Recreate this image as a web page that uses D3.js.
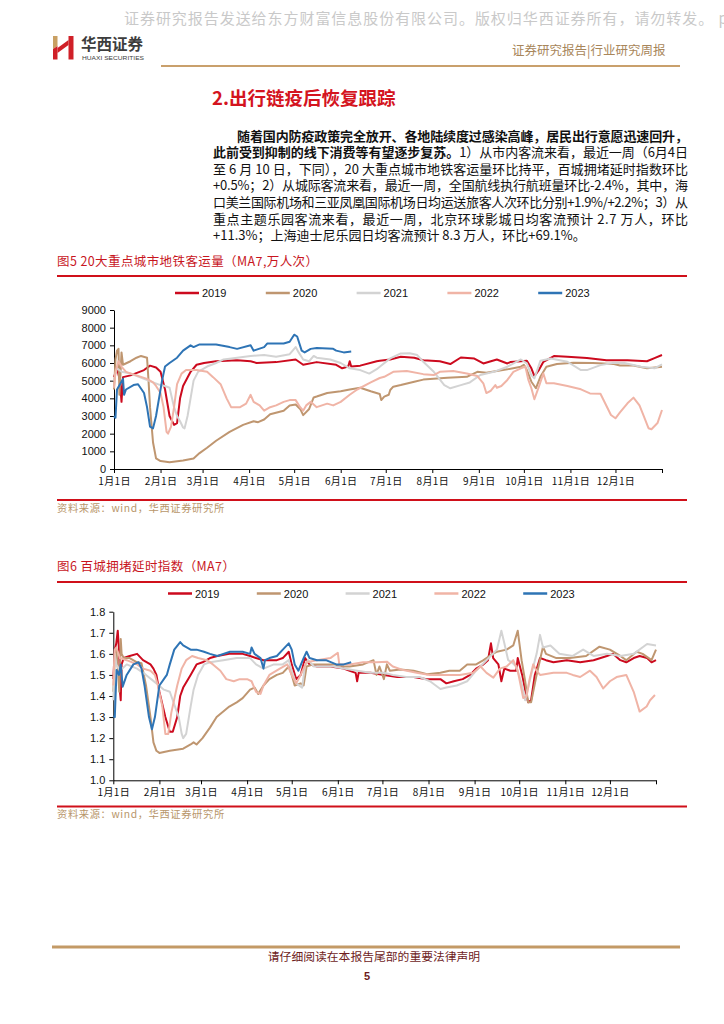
<!DOCTYPE html>
<html><head><meta charset="utf-8">
<script src="https://cdn.jsdelivr.net/npm/d3@7"></script>
<style>
html,body{margin:0;padding:0;background:#fff;}
svg{display:block;}
</style></head>
<body>
<svg id="page" width="724" height="1024"></svg>
<script>
// ---------- DATA ----------
const monthTicks = [0,31,59,90,120,151,181,212,243,273,304,334,365];
const monthLabels = ["1月1日","2月1日","3月1日","4月1日","5月1日","6月1日","7月1日","8月1日","9月1日","10月1日","11月1日","12月1日"];
const years = ["2019","2020","2021","2022","2023"];
const metroTicks = [0,1000,2000,3000,4000,5000,6000,7000,8000,9000];
const congTicks = [1.0,1.1,1.2,1.3,1.4,1.5,1.6,1.7,1.8];

// Fig 5: metro ridership (MA7, 10k trips), [day-of-year, value]
const metro2019 = [[0,5200],[2,5700],[4,5000],[5,3800],[6,5200],[11,5300],[20,5600],[24,5850],[28,5750],[31,5500],[34,4500],[37,3000],[40,2500],[42,2600],[44,4000],[46,4700],[51,5500],[55,5900],[60,6000],[68,6100],[82,6150],[91,6100],[95,6000],[108,6050],[121,6200],[126,5900],[135,6050],[148,5900],[152,5700],[156,5800],[157,6100],[158,5800],[164,5850],[175,6100],[177,6125],[184,6200],[191,6350],[200,6300],[206,6160],[217,6100],[224,5940],[231,6310],[240,6250],[246,5975],[255,6200],[262,5975],[264,6050],[271,6100],[275,6125],[278,5700],[280,5260],[283,5600],[286,6070],[293,6390],[302,6350],[315,6280],[328,6160],[342,6160],[355,6100],[360,6280],[365,6450]];
const metro2020 = [[0,4500],[1,6200],[2,6700],[3,6800],[3.6,4200],[4.4,5500],[5,6600],[6,5900],[11,6100],[15,6300],[18,6400],[22,6300],[23,5000],[24,3500],[26,1500],[28,600],[31,450],[37,380],[46,480],[53,600],[57,900],[62,1200],[68,1600],[77,2100],[86,2500],[93,2700],[96,2650],[100,2800],[104,3100],[113,3300],[117,3600],[121,3650],[124,3400],[126,3050],[130,3400],[133,4050],[135,4100],[142,4300],[151,4400],[157,4500],[164,4600],[171,4400],[177,4250],[178,3900],[180,4100],[183,4200],[184,4470],[186,4660],[191,4750],[200,4940],[206,5060],[222,5170],[235,5220],[242,5500],[248,5450],[262,5640],[271,5790],[273,5900],[275,5600],[278,4940],[281,4570],[284,5220],[288,5790],[295,5940],[306,6010],[319,6000],[333,5940],[337,5860],[346,5860],[355,5700],[362,5760],[365,5790]];
const metro2021 = [[0,5000],[1,5400],[2,5700],[5,5500],[11,5400],[20,5100],[26,4900],[31,4750],[34,4700],[37,4600],[40,3500],[42,3000],[44,2700],[46,2350],[47,2300],[49,3000],[51,4000],[53,5000],[56,5500],[62,5800],[68,6000],[73,6200],[82,6300],[91,6400],[100,6450],[108,6350],[117,6500],[121,6900],[123,6600],[126,6200],[130,6100],[133,6400],[135,6300],[144,6200],[151,6000],[157,5700],[164,5600],[170,5400],[175,5650],[177,5790],[184,6260],[191,6540],[197,6550],[202,6450],[206,6070],[213,5500],[220,4750],[224,4570],[231,4750],[237,4900],[244,5320],[253,5500],[262,5790],[271,6200],[275,5975],[278,5300],[280,5130],[284,6125],[291,6260],[302,6070],[311,5600],[315,5600],[324,5880],[333,6010],[340,6000],[351,5790],[360,5700],[365,5920]];
const metro2022 = [[0,4600],[1,5500],[3,6100],[5,5800],[8,5500],[15,5300],[22,5100],[26,4900],[28,4700],[31,4300],[33,3500],[35,2100],[36,2000],[38,2400],[40,3500],[42,4800],[45,5400],[48,5600],[55,5600],[62,5500],[66,5200],[71,4800],[75,4000],[78,3500],[84,3500],[88,3700],[91,4200],[93,3800],[97,3600],[100,3300],[104,3500],[108,3600],[113,3800],[117,3900],[121,3900],[124,3500],[126,3300],[128,3600],[131,3800],[135,3500],[142,3700],[146,3600],[151,3800],[157,4200],[162,4500],[171,4900],[177,5150],[180,5220],[186,5500],[195,5550],[206,5370],[213,5320],[217,5500],[226,5550],[235,5410],[242,5260],[246,4850],[248,4300],[251,4430],[254,4750],[255,4600],[258,4700],[262,5040],[266,5500],[271,5700],[274,5800],[276,5040],[278,4570],[280,3950],[283,4660],[286,5410],[288,4850],[293,4850],[302,4700],[311,4510],[317,4280],[324,4260],[331,3060],[334,2870],[337,3200],[342,3720],[346,4040],[350,3600],[353,2970],[356,2310],[358,2250],[362,2600],[365,3340]];
const metro2023 = [[0,3000],[1,2900],[2,4500],[4,4800],[6,5100],[6.7,4200],[8,4500],[13,4750],[16,4800],[20,4300],[22,3500],[24,2400],[26,2300],[28,3000],[32,5000],[34,5800],[37,6000],[42,6300],[46,6700],[51,7000],[53,6900],[57,7050],[68,7050],[77,6900],[82,6800],[91,7000],[93,6700],[100,6900],[102,7100],[113,7100],[117,7200],[120,7600],[122,7500],[125,6700],[127,6600],[131,6800],[135,6850],[146,6800],[148,6700],[153,6600],[158,6650]];

// Fig 6: congestion delay index (MA7)
const cong2019 = [[0,1.48],[1,1.62],[2,1.65],[3,1.71],[4,1.6],[4.5,1.42],[5,1.38],[5.6,1.55],[7,1.58],[11,1.59],[16,1.6],[20,1.57],[25,1.55],[27,1.53],[29,1.5],[31,1.42],[35,1.3],[38,1.23],[40,1.23],[43,1.3],[45,1.4],[47,1.44],[52,1.5],[56,1.55],[60,1.56],[65,1.58],[70,1.59],[78,1.6],[87,1.6],[92,1.59],[96,1.58],[101,1.57],[110,1.57],[114,1.58],[118,1.61],[120,1.55],[123,1.48],[126,1.5],[129,1.58],[132,1.55],[137,1.54],[146,1.54],[155,1.53],[159,1.52],[163,1.51],[164,1.47],[165,1.51],[173,1.51],[182,1.5],[191,1.49],[202,1.49],[211,1.48],[220,1.48],[224,1.46],[229,1.47],[235,1.48],[240,1.5],[244,1.53],[249,1.55],[252,1.57],[254,1.65],[255.5,1.58],[259,1.55],[261,1.47],[263,1.53],[267,1.52],[271,1.52],[272,1.58],[275,1.5],[277,1.43],[279,1.37],[281,1.38],[283.5,1.5],[287,1.58],[291,1.57],[296,1.56],[305,1.57],[314,1.56],[323,1.57],[332,1.59],[336,1.6],[341,1.57],[345,1.56],[350,1.58],[354,1.59],[359,1.58],[362,1.56],[365,1.57]];
const cong2020 = [[0,1.42],[1,1.58],[2,1.62],[3.4,1.5],[4,1.42],[5,1.67],[5.6,1.6],[7,1.58],[11,1.58],[16,1.56],[19,1.555],[22,1.45],[25,1.3],[27,1.18],[29,1.14],[31,1.13],[38,1.14],[47,1.15],[52,1.17],[54,1.18],[56,1.17],[60,1.2],[65,1.25],[69.5,1.3],[78,1.35],[83,1.37],[87,1.39],[92,1.43],[95,1.44],[97.5,1.41],[101,1.45],[105,1.48],[110,1.5],[114,1.51],[118,1.54],[120,1.5],[122,1.45],[126,1.46],[128,1.45],[130,1.54],[134.5,1.55],[141,1.55],[148,1.55],[155,1.54],[159,1.54],[168,1.55],[175,1.57],[177,1.5],[179,1.54],[182,1.48],[184,1.55],[186,1.52],[193,1.526],[202,1.52],[211,1.503],[220,1.51],[226,1.52],[233,1.52],[238,1.55],[244,1.55],[249,1.57],[253,1.59],[258,1.61],[264.5,1.62],[269,1.64],[272,1.71],[274.6,1.57],[277,1.47],[279,1.37],[281,1.37],[284.7,1.5],[289,1.634],[291,1.6],[298,1.58],[307,1.58],[318,1.59],[327,1.634],[334,1.62],[341,1.59],[345,1.57],[352,1.61],[356,1.6],[362,1.57],[365,1.62]];
const cong2021 = [[0,1.38],[1,1.6],[2,1.55],[4.5,1.52],[9,1.55],[16,1.53],[22,1.5],[29,1.46],[34,1.43],[38,1.42],[40,1.38],[44,1.3],[46,1.22],[47,1.2],[49,1.22],[52,1.35],[54,1.43],[57,1.5],[61,1.55],[65,1.56],[74,1.57],[83,1.58],[92,1.58],[96,1.55],[101,1.53],[108,1.55],[114,1.55],[118,1.57],[120,1.52],[123,1.46],[127,1.44],[129,1.55],[131,1.57],[135,1.54],[141,1.54],[148,1.54],[155,1.53],[164,1.52],[173,1.51],[182,1.51],[188,1.5],[197,1.49],[206,1.49],[213,1.47],[220,1.433],[224,1.44],[231,1.45],[238,1.47],[244,1.52],[251,1.57],[258,1.62],[261,1.71],[263,1.65],[265.6,1.57],[268,1.56],[271,1.54],[274.6,1.46],[277,1.38],[281,1.5],[284.7,1.6],[287,1.69],[289,1.63],[294,1.64],[300,1.6],[309,1.59],[316,1.62],[323,1.59],[332,1.6],[341,1.59],[350,1.6],[359,1.647],[365,1.64]];
const cong2022 = [[0,1.45],[1,1.62],[2,1.63],[4.5,1.58],[9,1.57],[16,1.55],[20,1.53],[25,1.52],[28,1.5],[30,1.45],[33,1.35],[35,1.22],[37,1.22],[39,1.32],[43,1.45],[46,1.53],[49,1.57],[53,1.59],[57,1.58],[63,1.57],[67,1.55],[72,1.52],[76,1.48],[81,1.47],[85,1.48],[90,1.48],[93,1.47],[96,1.42],[99,1.41],[101,1.45],[105,1.5],[112,1.53],[117,1.55],[120,1.5],[123,1.46],[126,1.5],[130,1.56],[137,1.57],[146,1.58],[151,1.605],[152,1.55],[159,1.55],[168,1.56],[177,1.56],[184,1.563],[188,1.54],[195,1.523],[204,1.51],[213,1.5],[224,1.5],[233,1.5],[242,1.51],[247,1.54],[251,1.51],[255.6,1.487],[260,1.53],[264.5,1.54],[269,1.57],[272,1.52],[275.7,1.39],[278,1.4],[280,1.48],[282.4,1.55],[284.7,1.52],[287,1.5],[296,1.51],[305,1.51],[309,1.5],[314,1.49],[320.6,1.52],[325,1.49],[329.5,1.436],[334,1.47],[338.5,1.49],[345,1.5],[350,1.42],[354,1.326],[358.7,1.35],[361,1.38],[364.3,1.405]];
const cong2023 = [[0,1.305],[1,1.3],[2.2,1.523],[3.8,1.5],[5,1.55],[6.3,1.444],[9,1.5],[13.5,1.55],[17,1.56],[19,1.53],[21,1.45],[24,1.3],[26,1.242],[28,1.3],[31,1.45],[34,1.48],[36,1.5],[38,1.55],[41,1.62],[45,1.656],[47,1.64],[52,1.62],[56,1.62],[61,1.61],[65,1.6],[70,1.59],[78.5,1.61],[87,1.61],[92,1.6],[93,1.63],[95,1.6],[99,1.58],[101,1.53],[102,1.57],[105,1.58],[110,1.59],[114,1.62],[118,1.65],[120,1.62],[122,1.55],[124.5,1.52],[128,1.58],[130,1.61],[132,1.58],[137,1.57],[143,1.57],[150,1.55],[155,1.55],[160,1.56]];

const metroSeries = [metro2019, metro2020, metro2021, metro2022, metro2023];
const congSeries = [cong2019, cong2020, cong2021, cong2022, cong2023];

const bodyLines = [
  {bold:"随着国内防疫政策完全放开、各地陆续度过感染高峰，居民出行意愿迅速回升，", normal:""},
  {bold:"此前受到抑制的线下消费等有望逐步复苏。", normal:"1）从市内客流来看，最近一周（6月4日"},
  {bold:"", normal:"至 6 月 10 日，下同），20 大重点城市地铁客运量环比持平，百城拥堵延时指数环比"},
  {bold:"", normal:"+0.5%；2）从城际客流来看，最近一周，全国航线执行航班量环比-2.4%，其中，海"},
  {bold:"", normal:"口美兰国际机场和三亚凤凰国际机场日均运送旅客人次环比分别+1.9%/+2.2%；3）从"},
  {bold:"", normal:"重点主题乐园客流来看，最近一周，北京环球影城日均客流预计 2.7 万人，环比"},
  {bold:"", normal:"+11.3%；上海迪士尼乐园日均客流预计 8.3 万人，环比+69.1%。"}
];

// ---------- STYLE ----------
const seriesColors = ["#cc0a1e","#bf9670","#d3d3d3","#f0b4a6","#2e74b5"];
const CJK = "'Noto Sans CJK SC','Noto Sans',sans-serif";
const NUM = "'Liberation Sans',Arial,sans-serif";

const svg = d3.select("#page");
svg.append("rect").attr("width",724).attr("height",1024).attr("fill","#fff");

// ---------- HEADER ----------
svg.append("text").attr("x",124).attr("y",24)
  .attr("font-family",CJK).attr("font-size",15).attr("letter-spacing",0.95)
  .attr("fill","#c9c9c9")
  .text("证券研究报告发送给东方财富信息股份有限公司。版权归华西证券所有，请勿转发。 p");

const logo = svg.append("g");
logo.append("polygon").attr("points","53,36 57.5,36 57.5,46 53,49").attr("fill","#c9a063");
logo.append("polygon").attr("points","53,49 57.5,46 57.5,59.5 53,59.5").attr("fill","#d02028");
logo.append("polygon").attr("points","57.5,48 68.5,40 68.5,45 57.5,53").attr("fill","#d02028");
logo.append("polygon").attr("points","68.5,36 73.5,36 73.5,59.5 68.5,59.5").attr("fill","#d02028");
svg.append("text").attr("x",81).attr("y",50).attr("font-family",CJK).attr("font-weight","bold")
  .attr("font-size",15.5).attr("fill","#3d3d3d").text("华西证券");
svg.append("text").attr("x",82).attr("y",60).attr("font-family",NUM)
  .attr("font-size",6.2).attr("fill","#3d3d3d").attr("textLength",62).attr("lengthAdjust","spacingAndGlyphs").text("HUAXI SECURITIES");

svg.append("text").attr("x",512).attr("y",54.5).attr("font-family",CJK).attr("font-size",12.5)
  .attr("fill","#a8865a").text("证券研究报告|行业研究周报");
svg.append("line").attr("x1",161).attr("x2",680).attr("y1",66).attr("y2",66)
  .attr("stroke","#c9a06c").attr("stroke-width",2);

// ---------- HEADING & BODY ----------
svg.append("text").attr("x",212).attr("y",105).attr("font-family",CJK).attr("font-weight","bold")
  .attr("font-size",18.5).attr("fill","#d4141e").text("2.出行链疫后恢复跟踪");

const lineY0 = 140.5, lineStep = 16.6;
bodyLines.forEach((ln,i) => {
  const x0 = i === 0 ? 237 : 213;
  const t = svg.append("text").attr("x",x0).attr("y",lineY0 + i*lineStep)
    .attr("font-family",CJK).attr("font-size",13).attr("fill","#111");
  if (i < bodyLines.length-1) t.attr("textLength", 688 - x0).attr("lengthAdjust","spacing");
  if (ln.bold) t.append("tspan").attr("font-weight","bold").text(ln.bold);
  if (ln.normal) t.append("tspan").text(ln.normal);
});

// ---------- CHART ----------
function drawChart(cfg) {
  const g = svg.append("g");
  g.append("text").attr("x",57).attr("y",cfg.titleY).attr("font-family",CJK).attr("font-size",12.5)
    .attr("fill","#c8161e").attr("letter-spacing",0.4).text(cfg.title);
  g.append("line").attr("x1",57).attr("x2",687).attr("y1",cfg.topLineY).attr("y2",cfg.topLineY)
    .attr("stroke","#d0101a").attr("stroke-width",2);
  years.forEach((yr,i) => {
    const lx = cfg.legendX0 + i*cfg.legendStep;
    g.append("line").attr("x1",lx).attr("x2",lx+24).attr("y1",cfg.legendY).attr("y2",cfg.legendY)
      .attr("stroke",seriesColors[i]).attr("stroke-width",2.5);
    g.append("text").attr("x",lx+27).attr("y",cfg.legendY+4).attr("font-family",NUM)
      .attr("font-size",11).attr("fill","#111").text(yr);
  });
  const x = d3.scaleLinear().domain([0,365]).range([cfg.x0,cfg.x1]);
  const y = d3.scaleLinear().domain(cfg.yDomain).range([cfg.yBottom,cfg.yTop]);
  const ya = g.append("g").attr("transform",`translate(${cfg.x0},0)`)
    .call(d3.axisLeft(y).tickValues(cfg.yTicks).tickSize(4).tickSizeOuter(0).tickPadding(4).tickFormat(cfg.yFmt));
  ya.selectAll("text").attr("font-family",NUM).attr("font-size",11).attr("fill","#111");
  ya.selectAll("line,path").attr("stroke","#000");
  const xa = g.append("g").attr("transform",`translate(0,${cfg.yBottom})`)
    .call(d3.axisBottom(x).tickValues(monthTicks).tickSize(4).tickSizeOuter(0).tickPadding(cfg.xPad)
      .tickFormat((d,i) => monthLabels[i] || ""));
  xa.selectAll("text").attr("font-family",CJK).attr("font-size",10).attr("letter-spacing",0.35).attr("fill","#111");
  xa.selectAll("line,path").attr("stroke","#000");
  const line = d3.line().x(d => x(d[0])).y(d => y(d[1]));
  cfg.series.forEach((s,i) => {
    g.append("path").datum(s).attr("d",line).attr("fill","none")
      .attr("stroke",seriesColors[i]).attr("stroke-width",2).attr("stroke-linejoin","round");
  });
  g.append("line").attr("x1",57).attr("x2",687).attr("y1",cfg.botLineY).attr("y2",cfg.botLineY)
    .attr("stroke","#d0101a").attr("stroke-width",2);
  g.append("text").attr("x",57).attr("y",cfg.botLineY+11.5).attr("font-family",CJK).attr("font-size",10.3)
    .attr("letter-spacing",0.6).attr("fill","#b8966a").text("资料来源：wind，华西证券研究所");
}

drawChart({
  title:"图5  20大重点城市地铁客运量（MA7,万人次）", titleY:266, topLineY:276,
  legendY:293, legendX0:175, legendStep:90.8,
  x0:114, x1:662, yTop:310, yBottom:469, yDomain:[0,9000], yTicks:metroTicks, yFmt:d3.format("d"),
  xPad:5, series:metroSeries, botLineY:500
});
drawChart({
  title:"图6  百城拥堵延时指数（MA7）", titleY:570.5, topLineY:582,
  legendY:593.5, legendX0:168, legendStep:88.8,
  x0:113.3, x1:656, yTop:611.7, yBottom:780.3, yDomain:[1.0,1.8], yTicks:congTicks, yFmt:d3.format(".1f"),
  xPad:5, series:congSeries, botLineY:806.5
});

// ---------- FOOTER ----------
svg.append("line").attr("x1",52).attr("x2",680).attr("y1",947).attr("y2",947)
  .attr("stroke","#c39a66").attr("stroke-width",3);
svg.append("text").attr("x",374).attr("y",961).attr("text-anchor","middle").attr("font-family",CJK)
  .attr("font-size",11.8).attr("fill","#6e1c1c").text("请仔细阅读在本报告尾部的重要法律声明");
svg.append("text").attr("x",367).attr("y",980).attr("text-anchor","middle").attr("font-family",NUM)
  .attr("font-weight","bold").attr("font-size",11).attr("fill","#6e1c1c").text("5");
</script>
</body></html>
